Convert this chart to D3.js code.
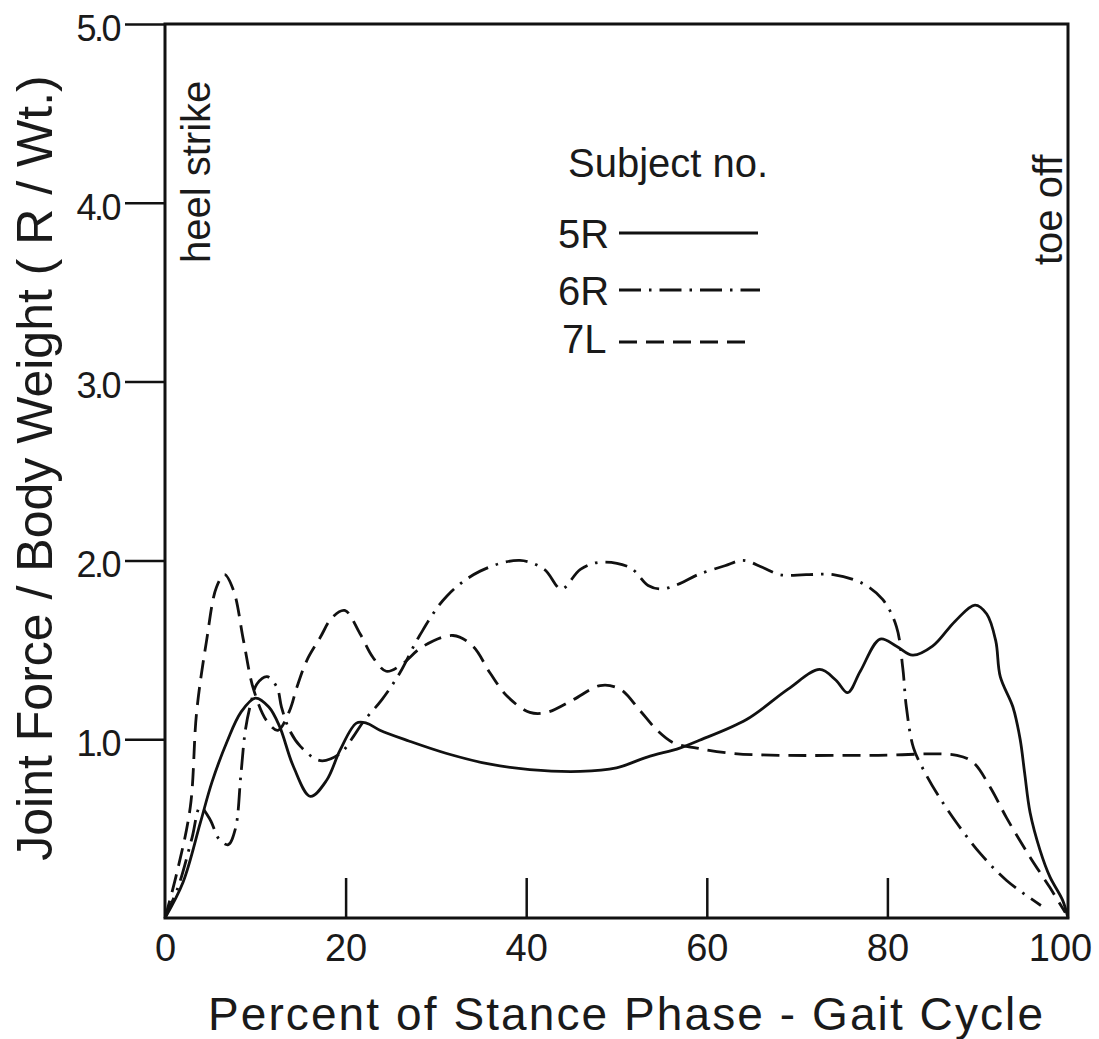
<!DOCTYPE html>
<html>
<head>
<meta charset="utf-8">
<script src="https://cdn.jsdelivr.net/npm/d3@7"></script>
<style>
  html, body { margin: 0; padding: 0; background: #fff; }
  svg { display: block; }
  text { font-family: "Liberation Sans", Arial, Helvetica, sans-serif; fill: #1a1a1a; }
</style>
</head>
<body>
<svg id="chart" width="1099" height="1039"></svg>
<script>
// ---- data ----
const xTicks = [0, 20, 40, 60, 80, 100];
const yTicks = [1, 2, 3, 4, 5];
const seriesNames = ["5R", "6R", "7L"];

const pct5R   = [0, 2, 3.9, 5.2, 6.9, 8.4, 10.0, 11.5, 12.7, 14.2, 16.1, 17.9, 19.4, 21.2, 22.3, 23.8, 27, 31.2, 36, 40.4, 46, 50, 53.4, 57, 59, 64.4, 69, 72.5, 74.3, 75.6, 77, 79.2, 81, 82.8, 85, 87.5, 89.7, 91, 92, 92.5, 93.9, 94.7, 95.2, 95.8, 96.9, 98, 99.4, 100];
const force5R = [0, 0.2, 0.53, 0.76, 0.99, 1.15, 1.23, 1.18, 1.07, 0.85, 0.68, 0.77, 0.94, 1.09, 1.09, 1.05, 0.99, 0.92, 0.86, 0.83, 0.82, 0.84, 0.9, 0.95, 0.99, 1.11, 1.28, 1.39, 1.33, 1.26, 1.38, 1.56, 1.52, 1.47, 1.52, 1.66, 1.75, 1.70, 1.55, 1.35, 1.18, 1.0, 0.81, 0.59, 0.38, 0.23, 0.1, 0];

const pct6R   = [0, 1.5, 3, 3.9, 5, 6, 7, 7.8, 8.4, 8.9, 9.5, 10.2, 11.3, 12.4, 12.9, 13.8, 15, 17.2, 19.4, 20.8, 22, 24, 26, 28.2, 31.2, 34.9, 39.3, 42, 43.9, 46, 48.2, 51.5, 53.5, 55, 57, 59, 62, 64, 66.2, 68.1, 71, 74, 77.3, 79.5, 81, 81.7, 82.1, 82.9, 84.2, 85.7, 87.7, 90.3, 93.2, 97];
const force6R = [0, 0.18, 0.45, 0.62, 0.55, 0.44, 0.41, 0.5, 0.8, 1.05, 1.2, 1.31, 1.35, 1.29, 1.18, 1.05, 0.96, 0.88, 0.92, 1.01, 1.1, 1.22, 1.37, 1.58, 1.8, 1.94, 2.0, 1.95, 1.84, 1.95, 1.99, 1.96, 1.86, 1.84, 1.87, 1.92, 1.97, 2.0, 1.96, 1.92, 1.92, 1.92, 1.87, 1.78, 1.63, 1.40, 1.18, 0.95, 0.81, 0.68, 0.53, 0.36, 0.21, 0.07];

const pct7L   = [0, 1.3, 2.8, 3.5, 4.6, 5.7, 6.6, 7.6, 8.7, 9.8, 11.3, 12.5, 13.8, 14.6, 15.7, 17.2, 18.5, 19.9, 21.6, 23, 24.5, 26, 28.6, 31.9, 34.1, 36, 37.9, 40.4, 42.3, 45.2, 48.2, 50.4, 52.6, 54.5, 56.3, 58.9, 63, 68, 79, 87.7, 89.5, 91.4, 93.2, 95.8, 98, 99.7];
const force7L = [0, 0.25, 0.62, 1.15, 1.55, 1.85, 1.92, 1.83, 1.55, 1.28, 1.1, 1.05, 1.16, 1.29, 1.44, 1.57, 1.68, 1.72, 1.59, 1.46, 1.38, 1.41, 1.52, 1.58, 1.52, 1.37, 1.24, 1.15, 1.15, 1.22, 1.30, 1.28, 1.16, 1.05, 0.98, 0.95, 0.92, 0.91, 0.91, 0.91, 0.87, 0.73, 0.56, 0.34, 0.17, 0.03];

// ---- drawing ----
const svg = d3.select("#chart");
const plotLeft = 165, plotRight = 1068, plotTop = 24, plotBottom = 918;

const x = d3.scaleLinear().domain([0, 100]).range([plotLeft, plotRight]);
const y = d3.scaleLinear().domain([0, 5]).range([plotBottom, plotTop]);

const series = [
  { name: seriesNames[0], pct: pct5R, force: force5R, dash: null },
  { name: seriesNames[1], pct: pct6R, force: force6R, dash: "22,8,2.5,8" },
  { name: seriesNames[2], pct: pct7L, force: force7L, dash: "18,9" }
];

// frame
svg.append("rect")
  .attr("x", plotLeft).attr("y", plotTop)
  .attr("width", plotRight - plotLeft).attr("height", plotBottom - plotTop)
  .attr("fill", "none").attr("stroke", "#111").attr("stroke-width", 3);

// y axis
const yAxis = d3.axisLeft(y).tickValues(yTicks).tickFormat(d3.format(".1f"))
  .tickSizeInner(40).tickSizeOuter(0).tickPadding(6);
const gy = svg.append("g").attr("transform", `translate(${plotLeft},0)`).call(yAxis);
gy.select(".domain").remove();
gy.selectAll(".tick line").attr("stroke", "#111").attr("stroke-width", 2.5);
gy.selectAll(".tick text")
  .attr("dy", "0.45em")
  .style("font-size", "36px").style("letter-spacing", "-2.5px")
  .attr("fill", "#1a1a1a");

// x axis (inner ticks, labels below)
const xAxis = d3.axisBottom(x).tickValues(xTicks).tickFormat(d3.format("d"))
  .tickSizeInner(-40).tickSizeOuter(0).tickPadding(16);
const gx = svg.append("g").attr("transform", `translate(0,${plotBottom})`).call(xAxis);
gx.select(".domain").remove();
gx.selectAll(".tick line").attr("stroke", "#111").attr("stroke-width", 2.5)
  .attr("display", d => (d === 0 || d === 100) ? "none" : null);
gx.selectAll(".tick text").style("font-size", "38px").attr("fill", "#1a1a1a")
  .attr("dx", d => d === 100 ? -8 : 0);

// lines
const line = d3.line().curve(d3.curveCatmullRom.alpha(0.5));
series.forEach(s => {
  const pts = s.pct.map((p, i) => [x(p), y(s.force[i])]);
  svg.append("path")
    .attr("d", line(pts))
    .attr("fill", "none")
    .attr("stroke", "#111")
    .attr("stroke-width", 2.8)
    .attr("stroke-linejoin", "round")
    .attr("stroke-dasharray", s.dash);
});

// axis titles
svg.append("text")
  .attr("transform", "translate(52,468) rotate(-90)")
  .attr("text-anchor", "middle")
  .style("font-size", "50px")
  .text("Joint Force / Body Weight ( R / Wt.)");

svg.append("text")
  .attr("x", 208).attr("y", 1030)
  .attr("textLength", 835).attr("lengthAdjust", "spacing")
  .style("font-size", "46px")
  .text("Percent of Stance Phase - Gait Cycle");

// annotations
svg.append("text")
  .attr("transform", "translate(210,263) rotate(-90)")
  .style("font-size", "40px")
  .text("heel strike");
svg.append("text")
  .attr("transform", "translate(1062,265) rotate(-90)")
  .style("font-size", "40px")
  .text("toe off");

// legend
svg.append("text").attr("x", 568).attr("y", 177).style("font-size", "40px").text("Subject no.");
const legendRows = [
  { label: seriesNames[0], ty: 248, ly: 233, x2: 758, dash: series[0].dash, tx: 558 },
  { label: seriesNames[1], ty: 305, ly: 290, x2: 760, dash: series[1].dash, tx: 558 },
  { label: seriesNames[2], ty: 353, ly: 342, x2: 750, dash: series[2].dash, tx: 562 }
];
legendRows.forEach(r => {
  svg.append("text").attr("x", r.tx).attr("y", r.ty).style("font-size", "40px").text(r.label);
  svg.append("line")
    .attr("x1", 619).attr("x2", r.x2).attr("y1", r.ly).attr("y2", r.ly)
    .attr("stroke", "#111").attr("stroke-width", 2.8)
    .attr("stroke-dasharray", r.dash);
});
</script>
</body>
</html>
